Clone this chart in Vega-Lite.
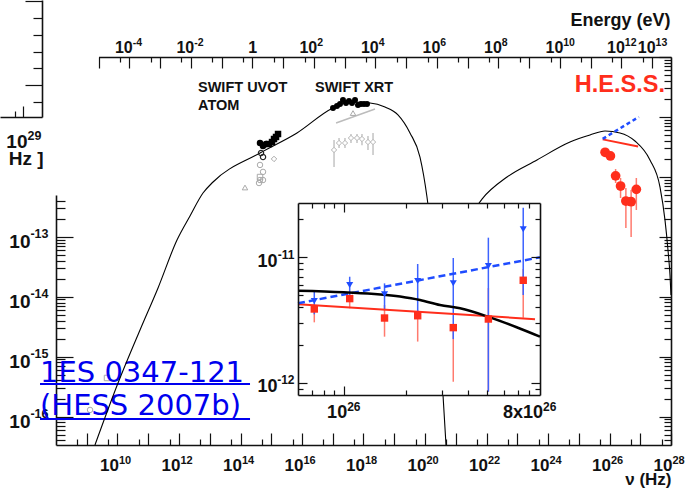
{
  "$schema": "https://vega.github.io/schema/vega-lite/v6.json",
  "width": 615,
  "height": 388,
  "autosize": {"type": "none"},
  "padding": {"left": 56, "top": 57, "right": 29, "bottom": 44},
  "background": "#ffffff",
  "config": {
    "view": {"stroke": null},
    "axis": {
      "grid": false,
      "domainColor": "#111111",
      "domainWidth": 1.6,
      "tickColor": "#111111",
      "tickWidth": 1.2,
      "labelFont": "Liberation Sans",
      "labelFontWeight": "bold",
      "labelColor": "#111111",
      "labelOverlap": false,
      "labelFlush": false,
      "labelBound": false,
      "titleFont": "Liberation Sans",
      "titleFontWeight": "bold",
      "titleColor": "#111111"
    }
  },
  "datasets": {
    "model": [
      {"comp": "sync", "nu": 1.85e9, "F": 3.35e-17},
      {"comp": "sync", "nu": 1.04e10, "F": 3.62e-16},
      {"comp": "sync", "nu": 5.40e10, "F": 2.78e-15},
      {"comp": "sync", "nu": 2.08e11, "F": 1.40e-14},
      {"comp": "sync", "nu": 8.61e11, "F": 8.83e-14},
      {"comp": "sync", "nu": 2.28e12, "F": 2.22e-13},
      {"comp": "sync", "nu": 6.03e12, "F": 5.37e-13},
      {"comp": "sync", "nu": 1.28e13, "F": 8.20e-13},
      {"comp": "sync", "nu": 4.31e14, "F": 2.50e-12},
      {"comp": "sync", "nu": 6.87e15, "F": 5.40e-12},
      {"comp": "sync", "nu": 1.02e17, "F": 1.41e-11},
      {"comp": "sync", "nu": 3.64e17, "F": 1.77e-11},
      {"comp": "sync", "nu": 1.63e18, "F": 1.71e-11},
      {"comp": "sync", "nu": 5.00e18, "F": 1.46e-11},
      {"comp": "sync", "nu": 1.32e19, "F": 1.08e-11},
      {"comp": "sync", "nu": 3.25e19, "F": 5.40e-12},
      {"comp": "sync", "nu": 6.87e19, "F": 2.14e-12},
      {"comp": "sync", "nu": 1.16e20, "F": 4.61e-13},
      {"comp": "sync", "nu": 1.82e20, "F": 6.01e-14},
      {"comp": "sync", "nu": 2.65e20, "F": 4.08e-15},
      {"comp": "sync", "nu": 3.85e20, "F": 2.29e-16},
      {"comp": "sync", "nu": 4.82e20, "F": 3.35e-17},
      {"comp": "ic", "nu": 2.00e21, "F": 1.57e-13},
      {"comp": "ic", "nu": 7.14e21, "F": 4.26e-13},
      {"comp": "ic", "nu": 4.65e22, "F": 9.93e-13},
      {"comp": "ic", "nu": 4.39e23, "F": 1.91e-12},
      {"comp": "ic", "nu": 5.19e24, "F": 3.81e-12},
      {"comp": "ic", "nu": 2.32e25, "F": 4.99e-12},
      {"comp": "ic", "nu": 7.15e25, "F": 5.82e-12},
      {"comp": "ic", "nu": 2.19e26, "F": 5.40e-12},
      {"comp": "ic", "nu": 6.74e26, "F": 3.96e-12},
      {"comp": "ic", "nu": 2.07e27, "F": 1.91e-12},
      {"comp": "ic", "nu": 4.39e27, "F": 6.76e-13},
      {"comp": "ic", "nu": 6.38e27, "F": 1.90e-13},
      {"comp": "ic", "nu": 7.98e27, "F": 6.01e-14},
      {"comp": "ic", "nu": 9.27e27, "F": 2.30e-14},
      {"comp": "ic", "nu": 1.0e28, "F": 1.07e-14}
    ],
    "xrt": [
      {"nu": 1.02e17, "F": 1.41e-11},
      {"nu": 1.37e17, "F": 1.52e-11},
      {"nu": 1.72e17, "F": 1.64e-11},
      {"nu": 2.15e17, "F": 1.92e-11},
      {"nu": 2.70e17, "F": 1.71e-11},
      {"nu": 3.37e17, "F": 1.85e-11},
      {"nu": 4.23e17, "F": 1.71e-11},
      {"nu": 5.30e17, "F": 1.92e-11},
      {"nu": 6.62e17, "F": 1.58e-11},
      {"nu": 8.30e17, "F": 1.64e-11},
      {"nu": 1.04e18, "F": 1.64e-11},
      {"nu": 1.30e18, "F": 1.64e-11}
    ],
    "xrtArchive": [
      {"nu": 1.10e17, "F": 2.81e-12, "lo": 1.46e-12, "hi": 4.12e-12},
      {"nu": 1.60e17, "F": 3.67e-12, "lo": 3.03e-12, "hi": 4.45e-12},
      {"nu": 2.50e17, "F": 3.67e-12, "lo": 3.03e-12, "hi": 4.45e-12},
      {"nu": 3.92e17, "F": 4.45e-12, "lo": 3.67e-12, "hi": 5.19e-12},
      {"nu": 6.15e17, "F": 4.45e-12, "lo": 3.67e-12, "hi": 5.19e-12},
      {"nu": 8.93e17, "F": 4.28e-12, "lo": 3.38e-12, "hi": 5.19e-12},
      {"nu": 1.40e18, "F": 3.81e-12, "lo": 2.81e-12, "hi": 4.81e-12},
      {"nu": 2.04e18, "F": 3.81e-12, "lo": 2.31e-12, "hi": 5.40e-12}
    ],
    "xrtArchiveFit": [
      {"nu": 1.28e17, "F": 7.93e-12},
      {"nu": 2.37e18, "F": 1.36e-11}
    ],
    "archive": [
      {"set": "a", "nu": 4.31e14, "F": 1.58e-12},
      {"set": "a", "nu": 5.40e14, "F": 1.21e-12},
      {"set": "a", "nu": 4.31e14, "F": 8.85e-13},
      {"set": "a", "nu": 5.40e14, "F": 8.85e-13},
      {"set": "a", "nu": 4.00e14, "F": 7.89e-13},
      {"set": "b", "nu": 4.31e14, "F": 9.93e-13},
      {"set": "c", "nu": 1.23e15, "F": 1.99e-12},
      {"set": "d", "nu": 1.40e14, "F": 6.64e-13},
      {"set": "d", "nu": 4.56e17, "F": 1.16e-11}
    ],
    "radio": [
      {"set": "b", "nu": 4.56e9, "F": 4.40e-16},
      {"set": "a", "nu": 1.28e9, "F": 1.29e-16}
    ],
    "uvot": [
      {"inst": "ATOM", "nu": 4.31e14, "F": 3.67e-12},
      {"inst": "ATOM", "nu": 5.40e14, "F": 3.27e-12},
      {"inst": "ATOM", "nu": 6.75e14, "F": 3.53e-12},
      {"inst": "UVOT", "nu": 8.45e14, "F": 3.53e-12},
      {"inst": "UVOT", "nu": 1.06e15, "F": 3.81e-12},
      {"inst": "UVOT", "nu": 1.23e15, "F": 4.28e-12},
      {"inst": "UVOT", "nu": 1.43e15, "F": 4.63e-12},
      {"inst": "UVOT", "nu": 1.66e15, "F": 5.19e-12}
    ],
    "uvotOpen": [
      {"nu": 4.65e14, "F": 2.50e-12},
      {"nu": 5.40e14, "F": 2.14e-12}
    ],
    "hessObs": [
      {"nu": 7.2e25, "F": 2.57e-12, "lo": 2.14e-12, "hi": 3.03e-12},
      {"nu": 1.07e26, "F": 2.23e-12, "lo": 1.91e-12, "hi": 2.60e-12},
      {"nu": 1.58e26, "F": 1.04e-12, "lo": 7.89e-13, "hi": 1.35e-12},
      {"nu": 2.29e26, "F": 7.03e-13, "lo": 4.44e-13, "hi": 9.57e-13},
      {"nu": 3.41e26, "F": 3.95e-13, "lo": 1.40e-13, "hi": 6.52e-13},
      {"nu": 5.05e26, "F": 3.85e-13, "lo": 9.91e-14, "hi": 6.03e-13},
      {"nu": 7.46e26, "F": 6.19e-13, "lo": 2.80e-13, "hi": 9.57e-13}
    ],
    "hessDeabsA": [
      {"nu": 7.2e25, "F": 3.87e-12, "lo": 3.03e-12, "hi": 4.22e-12},
      {"nu": 1.07e26, "F": 4.68e-12, "lo": 3.92e-12, "hi": 5.06e-12},
      {"nu": 1.58e26, "F": 3.28e-12, "lo": 2.33e-12, "hi": 4.17e-12},
      {"nu": 2.29e26, "F": 3.42e-12, "lo": 2.13e-12, "hi": 3.79e-12},
      {"nu": 3.41e26, "F": 2.75e-12, "lo": 1.02e-12, "hi": 2.94e-12},
      {"nu": 5.05e26, "F": 3.22e-12, "lo": 8.5e-13, "hi": 5.68e-12},
      {"nu": 7.46e26, "F": 6.55e-12, "lo": 3.30e-12, "hi": 8.05e-12}
    ],
    "hessDeabsB": [
      {"nu": 7.2e25, "F": 4.48e-12, "lo": 3.51e-12, "hi": 5.30e-12},
      {"nu": 1.07e26, "F": 6.01e-12, "lo": 5.00e-12, "hi": 6.99e-12},
      {"nu": 1.58e26, "F": 5.07e-12, "lo": 3.79e-12, "hi": 6.19e-12},
      {"nu": 2.29e26, "F": 6.47e-12, "lo": 3.66e-12, "hi": 8.83e-12},
      {"nu": 3.41e26, "F": 6.20e-12, "lo": 2.23e-12, "hi": 9.85e-12},
      {"nu": 5.05e26, "F": 8.51e-12, "lo": 8.5e-13, "hi": 1.43e-11},
      {"nu": 7.46e26, "F": 1.67e-11, "lo": 5.00e-12, "hi": 2.48e-11}
    ],
    "fitA": [
      {"nu": 6.0e25, "F": 4.22e-12},
      {"nu": 8.51e26, "F": 3.21e-12}
    ],
    "fitB": [
      {"nu": 6.0e25, "F": 4.30e-12},
      {"nu": 9.0e26, "F": 9.98e-12}
    ],
    "insetModel": [
      {"nu": 6.0e25, "F": 5.41e-12},
      {"nu": 1.0e26, "F": 5.26e-12},
      {"nu": 1.88e26, "F": 4.86e-12},
      {"nu": 2.35e26, "F": 4.56e-12},
      {"nu": 2.94e26, "F": 4.16e-12},
      {"nu": 3.68e26, "F": 3.92e-12},
      {"nu": 5.14e26, "F": 3.32e-12},
      {"nu": 6.93e26, "F": 2.77e-12},
      {"nu": 9.0e26, "F": 2.33e-12}
    ],
    "insetFrame": [
      {"nu_lo": 6.0e25, "nu_hi": 9.0e26, "F_lo": 8.0e-13, "F_hi": 2.7e-11}
    ],
    "tags": [
      {"text": "SWIFT UVOT", "nu": 4.15e12, "F": 2.63e-11},
      {"text": "ATOM", "nu": 4.15e12, "F": 1.30e-11},
      {"text": "SWIFT XRT", "nu": 2.65e16, "F": 2.63e-11}
    ],
    "hessTag": [
      {"text": "H.E.S.S.", "nu": 6.38e27, "F": 2.63e-11}
    ],
    "link": [
      {"text": "1ES 0347-121", "nu": 3.02e7, "F": 3.77e-16, "nu_end": 2.04e14, "F_line": 3.49e-16},
      {"text": "(HESS 2007b)", "nu": 3.02e7, "F": 1.06e-16, "nu_end": 2.04e14, "F_line": 9.09e-17}
    ],
    "energyEnds": [
      {"E": 1.0e-5},
      {"E": 4.1357e13}
    ],
    "fragmentAnchor": [
      {"fx": 0, "fy": 0}
    ]
  },
  "layer": [
    {
      "layer": [
        {
          "data": {"name": "radio"},
          "transform": [{"filter": "datum.set == 'b'"}],
          "mark": {"type": "point", "shape": "square", "filled": false, "color": "#aaaaaa", "size": 30, "strokeWidth": 1, "opacity": 1},
          "encoding": {
            "x": {"field": "nu", "type": "quantitative", "scale": {"type": "log", "domain": [1e8, 1e28], "nice": false}, "axis": null},
            "y": {"field": "F", "type": "quantitative", "scale": {"type": "log", "domain": [3.35e-17, 4.98e-13], "range": [388, 138], "nice": false},
              "axis": {"orient": "left", "values": [1e-16, 1e-15, 1e-14, 1e-13], "tickSize": -17, "labelPadding": 43, "labelFontSize": 19, "labelAlign": "right", "labelBaseline": "middle", "labelOffset": 5,
                "labelExpr": "'10'", "title": null}}
          }
        },
        {
          "data": {"name": "radio"},
          "transform": [{"filter": "datum.set == 'a'"}],
          "mark": {"type": "point", "shape": "circle", "filled": false, "color": "#aaaaaa", "size": 30, "strokeWidth": 1, "opacity": 1},
          "encoding": {
            "x": {"field": "nu", "type": "quantitative", "scale": {"type": "log", "domain": [1e8, 1e28], "nice": false}, "axis": null},
            "y": {"field": "F", "type": "quantitative", "scale": {"type": "log", "domain": [3.35e-17, 4.98e-13], "range": [388, 138], "nice": false},
              "axis": {"orient": "left", "values": [4e-17, 5e-17, 6e-17, 7e-17, 8e-17, 9e-17, 2e-16, 3e-16, 4e-16, 5e-16, 6e-16, 7e-16, 8e-16, 9e-16, 2e-15, 3e-15, 4e-15, 5e-15, 6e-15, 7e-15, 8e-15, 9e-15, 2e-14, 3e-14, 4e-14, 5e-14, 6e-14, 7e-14, 8e-14, 9e-14, 2e-13, 3e-13, 4e-13], "tickSize": -9, "labels": false, "domain": false, "title": null}}
          }
        },
        {
          "data": {"name": "link"},
          "mark": {"type": "text", "align": "left", "baseline": "alphabetic", "font": "DejaVu Sans", "fontSize": 29, "color": "#0000ee"},
          "encoding": {
            "x": {"field": "nu", "type": "quantitative", "scale": {"type": "log", "domain": [1e8, 1e28], "nice": false}, "axis": null},
            "y": {"field": "F", "type": "quantitative", "scale": {"type": "log", "domain": [3.35e-17, 4.98e-13], "range": [388, 138], "nice": false},
              "axis": {"orient": "left", "values": [1e-16, 1e-15, 1e-14, 1e-13], "ticks": false, "domain": false, "labelPadding": 8, "labelFontSize": 12.5, "labelAlign": "right", "labelBaseline": "middle", "labelOffset": -3,
                "labelExpr": "'' + round(log(datum.value)/LN10)", "title": null}},
            "text": {"field": "text"}
          }
        },
        {
          "data": {"name": "link"},
          "mark": {"type": "rule", "color": "#0000ee", "strokeWidth": 2},
          "encoding": {
            "x": {"field": "nu", "type": "quantitative", "scale": {"type": "log", "domain": [1e8, 1e28], "nice": false}, "axis": null},
            "x2": {"field": "nu_end"},
            "y": {"field": "F_line", "type": "quantitative", "scale": {"type": "log", "domain": [3.35e-17, 4.98e-13], "range": [388, 138], "nice": false}, "axis": null}
          }
        }
      ],
      "resolve": {"axis": {"x": "independent", "y": "independent"}}
    },
    {
      "layer": [
        {
          "data": {"name": "model"},
          "mark": {"type": "line", "color": "#000000", "strokeWidth": 1.1, "interpolate": "monotone"},
          "encoding": {
            "x": {"field": "nu", "type": "quantitative", "scale": {"type": "log", "domain": [1e8, 1e28], "nice": false},
              "axis": {"orient": "bottom", "values": [1e9, 1e10, 1e11, 1e12, 1e13, 1e14, 1e15, 1e16, 1e17, 1e18, 1e19, 1e20, 1e21, 1e22, 1e23, 1e24, 1e25, 1e26, 1e27, 1e28], "tickSize": -12, "labelPadding": 37, "labelFontSize": 17, "labelBaseline": "alphabetic", "labelAlign": "right", "labelOffset": 1,
                "labelExpr": "round(log(datum.value)/LN10) % 2 != 0 ? '' : '10'",
                "title": "ν (Hz)", "titleX": 615, "titleY": 39, "titleAlign": "right", "titleBaseline": "alphabetic", "titleAngle": 0, "titleFontSize": 17}},
            "y": {"field": "F", "type": "quantitative", "scale": {"type": "log", "domain": [3.35e-17, 1e-10], "nice": false},
              "axis": {"orient": "right", "values": [1e-16, 1e-15, 1e-14, 1e-13, 1e-12, 1e-11, 1e-10], "tickSize": -12, "labels": false, "title": null}},
            "detail": {"field": "comp"}
          }
        },
        {
          "data": {"name": "xrtArchive"},
          "mark": {"type": "rule", "color": "#b4b4b4", "strokeWidth": 1.2},
          "encoding": {
            "x": {"field": "nu", "type": "quantitative", "scale": {"type": "log", "domain": [1e8, 1e28], "nice": false},
              "axis": {"orient": "bottom", "values": [5e8, 5e9, 5e10, 5e11, 5e12, 5e13, 5e14, 5e15, 5e16, 5e17, 5e18, 5e19, 5e20, 5e21, 5e22, 5e23, 5e24, 5e25, 5e26, 5e27], "tickSize": -6, "labels": false, "domain": false, "title": null}},
            "y": {"field": "lo", "type": "quantitative", "scale": {"type": "log", "domain": [3.35e-17, 1e-10], "nice": false},
              "axis": {"orient": "right", "values": [4e-17, 5e-17, 6e-17, 7e-17, 8e-17, 9e-17, 2e-16, 3e-16, 4e-16, 5e-16, 6e-16, 7e-16, 8e-16, 9e-16, 2e-15, 3e-15, 4e-15, 5e-15, 6e-15, 7e-15, 8e-15, 9e-15, 2e-14, 3e-14, 4e-14, 5e-14, 6e-14, 7e-14, 8e-14, 9e-14, 2e-13, 3e-13, 4e-13, 5e-13, 6e-13, 7e-13, 8e-13, 9e-13, 2e-12, 3e-12, 4e-12, 5e-12, 6e-12, 7e-12, 8e-12, 9e-12, 2e-11, 3e-11, 4e-11, 5e-11, 6e-11, 7e-11, 8e-11, 9e-11], "tickSize": -7, "labels": false, "domain": false, "title": null}},
            "y2": {"field": "hi"}
          }
        },
        {
          "data": {"name": "xrtArchive"},
          "mark": {"type": "point", "shape": "diamond", "filled": true, "fill": "#ffffff", "stroke": "#b4b4b4", "strokeWidth": 1, "size": 28, "opacity": 1},
          "encoding": {
            "x": {"field": "nu", "type": "quantitative", "scale": {"type": "log", "domain": [1e8, 1e28], "nice": false},
              "axis": {"orient": "bottom", "values": [1e10, 1e12, 1e14, 1e16, 1e18, 1e20, 1e22, 1e24, 1e26, 1e28], "ticks": false, "domain": false, "labelPadding": 18, "labelFontSize": 11, "labelBaseline": "alphabetic", "labelAlign": "left", "labelOffset": 1,
                "labelExpr": "'' + round(log(datum.value)/LN10)", "title": null}},
            "y": {"field": "F", "type": "quantitative", "scale": {"type": "log", "domain": [3.35e-17, 1e-10], "nice": false}, "axis": null}
          }
        },
        {
          "data": {"name": "xrtArchiveFit"},
          "mark": {"type": "line", "color": "#bcbcbc", "strokeWidth": 1.5},
          "encoding": {
            "x": {"field": "nu", "type": "quantitative", "scale": {"type": "log", "domain": [1e8, 1e28], "nice": false}, "axis": null},
            "y": {"field": "F", "type": "quantitative", "scale": {"type": "log", "domain": [3.35e-17, 1e-10], "nice": false}, "axis": null}
          }
        },
        {
          "data": {"name": "archive"},
          "mark": {"type": "point", "filled": false, "color": "#aaaaaa", "strokeWidth": 1, "size": 30, "opacity": 1},
          "encoding": {
            "x": {"field": "nu", "type": "quantitative", "scale": {"type": "log", "domain": [1e8, 1e28], "nice": false}, "axis": null},
            "y": {"field": "F", "type": "quantitative", "scale": {"type": "log", "domain": [3.35e-17, 1e-10], "nice": false}, "axis": null},
            "shape": {"field": "set", "type": "nominal", "scale": {"domain": ["a", "b", "c", "d"], "range": ["circle", "square", "diamond", "triangle-up"]}, "legend": null}
          }
        },
        {
          "data": {"name": "uvotOpen"},
          "mark": {"type": "point", "shape": "circle", "filled": false, "color": "#222222", "strokeWidth": 1.2, "size": 28, "opacity": 1},
          "encoding": {
            "x": {"field": "nu", "type": "quantitative", "scale": {"type": "log", "domain": [1e8, 1e28], "nice": false}, "axis": null},
            "y": {"field": "F", "type": "quantitative", "scale": {"type": "log", "domain": [3.35e-17, 1e-10], "nice": false}, "axis": null}
          }
        },
        {
          "data": {"name": "uvot"},
          "mark": {"type": "point", "filled": true, "color": "#000000", "size": 42, "opacity": 1},
          "encoding": {
            "x": {"field": "nu", "type": "quantitative", "scale": {"type": "log", "domain": [1e8, 1e28], "nice": false}, "axis": null},
            "y": {"field": "F", "type": "quantitative", "scale": {"type": "log", "domain": [3.35e-17, 1e-10], "nice": false}, "axis": null},
            "shape": {"field": "inst", "type": "nominal", "scale": {"domain": ["ATOM", "UVOT"], "range": ["triangle-down", "circle"]}, "legend": null}
          }
        },
        {
          "data": {"name": "xrt"},
          "mark": {"type": "point", "shape": "circle", "filled": true, "color": "#000000", "size": 36, "opacity": 1},
          "encoding": {
            "x": {"field": "nu", "type": "quantitative", "scale": {"type": "log", "domain": [1e8, 1e28], "nice": false}, "axis": null},
            "y": {"field": "F", "type": "quantitative", "scale": {"type": "log", "domain": [3.35e-17, 1e-10], "nice": false}, "axis": null}
          }
        },
        {
          "data": {"name": "hessObs"},
          "mark": {"type": "rule", "color": "#ff7a6e", "strokeWidth": 1.5},
          "encoding": {
            "x": {"field": "nu", "type": "quantitative", "scale": {"type": "log", "domain": [1e8, 1e28], "nice": false}, "axis": null},
            "y": {"field": "lo", "type": "quantitative", "scale": {"type": "log", "domain": [3.35e-17, 1e-10], "nice": false}, "axis": null},
            "y2": {"field": "hi"}
          }
        },
        {
          "data": {"name": "hessObs"},
          "mark": {"type": "point", "shape": "circle", "filled": true, "color": "#ff2e1c", "size": 95, "opacity": 1},
          "encoding": {
            "x": {"field": "nu", "type": "quantitative", "scale": {"type": "log", "domain": [1e8, 1e28], "nice": false}, "axis": null},
            "y": {"field": "F", "type": "quantitative", "scale": {"type": "log", "domain": [3.35e-17, 1e-10], "nice": false}, "axis": null}
          }
        },
        {
          "data": {"name": "fitA"},
          "mark": {"type": "line", "color": "#ff2e1c", "strokeWidth": 2},
          "encoding": {
            "x": {"field": "nu", "type": "quantitative", "scale": {"type": "log", "domain": [1e8, 1e28], "nice": false}, "axis": null},
            "y": {"field": "F", "type": "quantitative", "scale": {"type": "log", "domain": [3.35e-17, 1e-10], "nice": false}, "axis": null}
          }
        },
        {
          "data": {"name": "fitB"},
          "mark": {"type": "line", "color": "#1f4cff", "strokeWidth": 2.5, "strokeDash": [4, 3]},
          "encoding": {
            "x": {"field": "nu", "type": "quantitative", "scale": {"type": "log", "domain": [1e8, 1e28], "nice": false}, "axis": null},
            "y": {"field": "F", "type": "quantitative", "scale": {"type": "log", "domain": [3.35e-17, 1e-10], "nice": false}, "axis": null}
          }
        },
        {
          "data": {"name": "tags"},
          "mark": {"type": "text", "align": "left", "baseline": "alphabetic", "font": "Liberation Sans", "fontWeight": "bold", "fontSize": 14.5, "color": "#111111"},
          "encoding": {
            "x": {"field": "nu", "type": "quantitative", "scale": {"type": "log", "domain": [1e8, 1e28], "nice": false}, "axis": null},
            "y": {"field": "F", "type": "quantitative", "scale": {"type": "log", "domain": [3.35e-17, 1e-10], "nice": false}, "axis": null},
            "text": {"field": "text"}
          }
        },
        {
          "data": {"name": "hessTag"},
          "mark": {"type": "text", "align": "right", "baseline": "alphabetic", "font": "Liberation Sans", "fontWeight": "bold", "fontSize": 23.5, "color": "#ff2e1c"},
          "encoding": {
            "x": {"field": "nu", "type": "quantitative", "scale": {"type": "log", "domain": [1e8, 1e28], "nice": false}, "axis": null},
            "y": {"field": "F", "type": "quantitative", "scale": {"type": "log", "domain": [3.35e-17, 1e-10], "nice": false}, "axis": null},
            "text": {"field": "text"}
          }
        }
      ],
      "resolve": {"axis": {"x": "independent", "y": "independent"}}
    },
    {
      "layer": [
        {
          "data": {"name": "energyEnds"},
          "mark": {"type": "point", "opacity": 0},
          "encoding": {
            "x": {"field": "E", "type": "quantitative", "scale": {"type": "log", "domain": [1e-5, 4.1357e13], "range": [42.5, 615], "nice": false},
              "axis": {"orient": "top", "values": [1e-5, 1e-4, 1e-3, 1e-2, 1e-1, 1, 1e1, 1e2, 1e3, 1e4, 1e5, 1e6, 1e7, 1e8, 1e9, 1e10, 1e11, 1e12, 1e13], "tickSize": -11, "labelPadding": 16, "labelFontSize": 16, "labelBaseline": "alphabetic",
                "labelAlign": {"condition": {"test": "datum.value == 1", "value": "center"}, "value": "right"},
                "labelOffset": {"condition": {"test": "datum.value == 1", "value": 0}, "value": 3},
                "labelExpr": "datum.value == 1 ? '1' : indexof([-4,-2,2,4,6,8,10,12,13], round(log(datum.value)/LN10)) < 0 ? '' : '10'",
                "title": "Energy (eV)", "titleX": 614, "titleY": -32, "titleAlign": "right", "titleBaseline": "alphabetic", "titleAngle": 0, "titleFontSize": 18}}
          }
        },
        {
          "data": {"name": "energyEnds"},
          "mark": {"type": "point", "opacity": 0},
          "encoding": {
            "x": {"field": "E", "type": "quantitative", "scale": {"type": "log", "domain": [1e-5, 4.1357e13], "range": [42.5, 615], "nice": false},
              "axis": {"orient": "top", "values": [5e-5, 5e-4, 5e-3, 5e-2, 5e-1, 5, 5e1, 5e2, 5e3, 5e4, 5e5, 5e6, 5e7, 5e8, 5e9, 5e10, 5e11, 5e12], "tickSize": -5, "labels": false, "domain": false, "title": null}}
          }
        },
        {
          "data": {"name": "energyEnds"},
          "mark": {"type": "point", "opacity": 0},
          "encoding": {
            "x": {"field": "E", "type": "quantitative", "scale": {"type": "log", "domain": [1e-5, 4.1357e13], "range": [42.5, 615], "nice": false},
              "axis": {"orient": "top", "values": [1e-4, 1e-2, 1e2, 1e4, 1e6, 1e8, 1e10, 1e12, 1e13], "ticks": false, "domain": false, "labelPadding": 12, "labelFontSize": 10.5, "labelBaseline": "alphabetic", "labelAlign": "left", "labelOffset": 3,
                "labelExpr": "'' + round(log(datum.value)/LN10)", "title": null}}
          }
        }
      ],
      "resolve": {"axis": {"x": "independent"}}
    },
    {
      "layer": [
        {
          "data": {"name": "insetFrame"},
          "mark": {"type": "rect", "fill": "#ffffff"},
          "encoding": {
            "x": {"field": "nu_lo", "type": "quantitative", "scale": {"type": "log", "domain": [6e25, 9e26], "range": [242, 484], "nice": false},
              "axis": {"orient": "bottom", "offset": -50, "values": [1e26], "tickSize": -9, "labels": false, "title": null, "zindex": 1}},
            "x2": {"field": "nu_hi"},
            "y": {"field": "F_lo", "type": "quantitative", "scale": {"type": "log", "domain": [8e-13, 2.7e-11], "range": [338, 146], "nice": false},
              "axis": {"orient": "left", "offset": -242, "values": [1e-12, 1e-11], "tickSize": -9, "labelPadding": 30, "labelFontSize": 18, "labelAlign": "right", "labelBaseline": "middle", "labelOffset": 4,
                "labelExpr": "'10'", "title": null, "zindex": 1}},
            "y2": {"field": "F_hi"}
          }
        },
        {
          "data": {"name": "hessDeabsA"},
          "mark": {"type": "rule", "color": "#ff7a6e", "strokeWidth": 1.5},
          "encoding": {
            "x": {"field": "nu", "type": "quantitative", "scale": {"type": "log", "domain": [6e25, 9e26], "range": [242, 484], "nice": false},
              "axis": {"orient": "bottom", "offset": -50, "values": [7e25, 8e25, 9e25, 2e26, 3e26, 4e26, 5e26, 6e26, 7e26, 8e26], "tickSize": -5, "labels": false, "domain": false, "title": null, "zindex": 1}},
            "y": {"field": "lo", "type": "quantitative", "scale": {"type": "log", "domain": [8e-13, 2.7e-11], "range": [338, 146], "nice": false},
              "axis": {"orient": "left", "offset": -242, "values": [9e-13, 2e-12, 3e-12, 4e-12, 5e-12, 6e-12, 7e-12, 8e-12, 9e-12, 2e-11], "tickSize": -5, "labels": false, "domain": false, "title": null, "zindex": 1}},
            "y2": {"field": "hi"}
          }
        },
        {
          "data": {"name": "hessDeabsB"},
          "mark": {"type": "rule", "color": "#3d63ff", "strokeWidth": 1.5},
          "encoding": {
            "x": {"field": "nu", "type": "quantitative", "scale": {"type": "log", "domain": [6e25, 9e26], "range": [242, 484], "nice": false},
              "axis": {"orient": "top", "offset": -146, "values": [1e26], "tickSize": -9, "labels": false, "title": null, "zindex": 1}},
            "y": {"field": "lo", "type": "quantitative", "scale": {"type": "log", "domain": [8e-13, 2.7e-11], "range": [338, 146], "nice": false},
              "axis": {"orient": "right", "offset": -131, "values": [1e-12, 1e-11], "tickSize": -9, "labels": false, "title": null, "zindex": 1}},
            "y2": {"field": "hi"}
          }
        },
        {
          "data": {"name": "fitA"},
          "mark": {"type": "line", "color": "#ff2e1c", "strokeWidth": 2},
          "encoding": {
            "x": {"field": "nu", "type": "quantitative", "scale": {"type": "log", "domain": [6e25, 9e26], "range": [242, 484], "nice": false},
              "axis": {"orient": "top", "offset": -146, "values": [7e25, 8e25, 9e25, 2e26, 3e26, 4e26, 5e26, 6e26, 7e26, 8e26], "tickSize": -5, "labels": false, "domain": false, "title": null, "zindex": 1}},
            "y": {"field": "F", "type": "quantitative", "scale": {"type": "log", "domain": [8e-13, 2.7e-11], "range": [338, 146], "nice": false},
              "axis": {"orient": "right", "offset": -131, "values": [9e-13, 2e-12, 3e-12, 4e-12, 5e-12, 6e-12, 7e-12, 8e-12, 9e-12, 2e-11], "tickSize": -5, "labels": false, "domain": false, "title": null, "zindex": 1}}
          }
        },
        {
          "data": {"name": "fitB"},
          "mark": {"type": "line", "color": "#1f4cff", "strokeWidth": 2.5, "strokeDash": [7, 4]},
          "encoding": {
            "x": {"field": "nu", "type": "quantitative", "scale": {"type": "log", "domain": [6e25, 9e26], "range": [242, 484], "nice": false},
              "axis": {"orient": "bottom", "offset": -50, "values": [1e26, 8e26], "ticks": false, "domain": false, "labelPadding": 22, "labelFontSize": 18, "labelBaseline": "alphabetic", "labelAlign": "right",
                "labelOffset": {"condition": {"test": "datum.value > 5e26", "value": 13}, "value": 3},
                "labelExpr": "datum.value > 5e26 ? '8x10' : '10'", "title": null, "zindex": 1}},
            "y": {"field": "F", "type": "quantitative", "scale": {"type": "log", "domain": [8e-13, 2.7e-11], "range": [338, 146], "nice": false}, "axis": null}
          }
        },
        {
          "data": {"name": "insetModel"},
          "mark": {"type": "line", "color": "#000000", "strokeWidth": 2.5, "interpolate": "monotone"},
          "encoding": {
            "x": {"field": "nu", "type": "quantitative", "scale": {"type": "log", "domain": [6e25, 9e26], "range": [242, 484], "nice": false}, "axis": null},
            "y": {"field": "F", "type": "quantitative", "scale": {"type": "log", "domain": [8e-13, 2.7e-11], "range": [338, 146], "nice": false},
              "axis": {"orient": "left", "offset": -242, "values": [1e-12, 1e-11], "ticks": false, "domain": false, "labelPadding": 4, "labelFontSize": 12, "labelAlign": "right", "labelBaseline": "middle", "labelOffset": -3,
                "labelExpr": "'' + round(log(datum.value)/LN10)", "title": null, "zindex": 1}}
          }
        },
        {
          "data": {"name": "hessDeabsB"},
          "mark": {"type": "point", "shape": "triangle-down", "filled": true, "color": "#1f4cff", "size": 50, "opacity": 1},
          "encoding": {
            "x": {"field": "nu", "type": "quantitative", "scale": {"type": "log", "domain": [6e25, 9e26], "range": [242, 484], "nice": false},
              "axis": {"orient": "bottom", "offset": -50, "values": [1e26, 8e26], "ticks": false, "domain": false, "labelPadding": 15, "labelFontSize": 12, "labelBaseline": "alphabetic", "labelAlign": "left",
                "labelOffset": {"condition": {"test": "datum.value > 5e26", "value": 13}, "value": 3},
                "labelExpr": "'26'", "title": null, "zindex": 1}},
            "y": {"field": "F", "type": "quantitative", "scale": {"type": "log", "domain": [8e-13, 2.7e-11], "range": [338, 146], "nice": false}, "axis": null}
          }
        },
        {
          "data": {"name": "hessDeabsA"},
          "mark": {"type": "point", "shape": "square", "filled": true, "color": "#ff2e1c", "size": 55, "opacity": 1},
          "encoding": {
            "x": {"field": "nu", "type": "quantitative", "scale": {"type": "log", "domain": [6e25, 9e26], "range": [242, 484], "nice": false}, "axis": null},
            "y": {"field": "F", "type": "quantitative", "scale": {"type": "log", "domain": [8e-13, 2.7e-11], "range": [338, 146], "nice": false}, "axis": null}
          }
        }
      ],
      "resolve": {"axis": {"x": "independent", "y": "independent"}}
    },
    {
      "layer": [
        {
          "data": {"name": "fragmentAnchor"},
          "mark": {"type": "point", "opacity": 0},
          "encoding": {
            "x": {"field": "fx", "type": "quantitative", "scale": {"type": "linear", "domain": [0, 42], "range": [-56, -14], "nice": false, "zero": false},
              "axis": {"orient": "bottom", "offset": -328, "values": [23], "tickSize": -11, "labelPadding": 41, "labelFontSize": 19, "labelBaseline": "alphabetic", "labelAlign": "right", "labelOffset": 4, "labelExpr": "'10'",
                "title": "Hz ]", "titleX": -13, "titleY": 47, "titleAlign": "right", "titleBaseline": "alphabetic", "titleAngle": 0, "titleFontSize": 19}},
            "y": {"field": "fy", "type": "quantitative", "scale": {"type": "linear", "domain": [0, 117], "range": [-57, 60], "nice": false, "zero": false},
              "axis": {"orient": "left", "offset": 14, "values": [1, 85], "tickSize": 17, "labels": false, "title": null}}
          }
        },
        {
          "data": {"name": "fragmentAnchor"},
          "mark": {"type": "point", "opacity": 0},
          "encoding": {
            "x": {"field": "fx", "type": "quantitative", "scale": {"type": "linear", "domain": [0, 42], "range": [-56, -14], "nice": false, "zero": false},
              "axis": {"orient": "bottom", "offset": -328, "values": [15], "tickSize": -6, "labels": false, "domain": false, "title": null}},
            "y": {"field": "fy", "type": "quantitative", "scale": {"type": "linear", "domain": [0, 117], "range": [-57, 60], "nice": false, "zero": false},
              "axis": {"orient": "left", "offset": 14, "values": [18, 35, 52, 68, 102], "tickSize": 9, "labels": false, "domain": false, "title": null}}
          }
        },
        {
          "data": {"name": "fragmentAnchor"},
          "mark": {"type": "point", "opacity": 0},
          "encoding": {
            "x": {"field": "fx", "type": "quantitative", "scale": {"type": "linear", "domain": [0, 42], "range": [-56, -14], "nice": false, "zero": false},
              "axis": {"orient": "bottom", "offset": -328, "values": [23], "ticks": false, "domain": false, "labelPadding": 22, "labelFontSize": 12.5, "labelBaseline": "alphabetic", "labelAlign": "left", "labelOffset": 4, "labelExpr": "'29'", "title": null}},
            "y": {"field": "fy", "type": "quantitative", "scale": {"type": "linear", "domain": [0, 117], "range": [-57, 60], "nice": false, "zero": false}, "axis": null}
          }
        }
      ],
      "resolve": {"axis": {"x": "independent", "y": "independent"}}
    }
  ],
  "resolve": {
    "scale": {"x": "independent", "y": "independent"},
    "axis": {"x": "independent", "y": "independent"}
  }
}
